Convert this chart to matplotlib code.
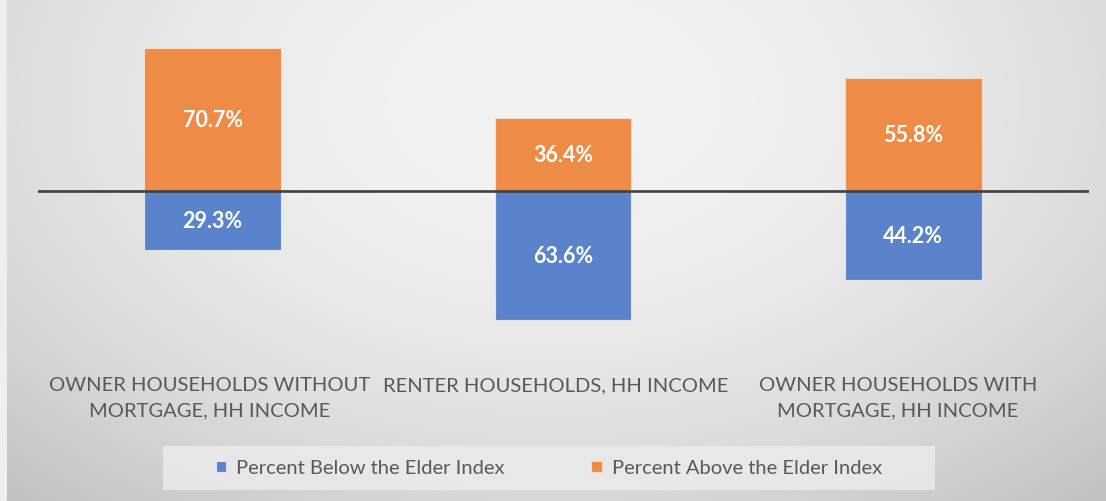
import numpy as np
import matplotlib.pyplot as plt
from matplotlib.patches import Rectangle

plt.rcParams['font.family'] = ['Lato', 'DejaVu Sans']

categories = ["OWNER HOUSEHOLDS WITHOUT\nMORTGAGE, HH INCOME",
              "RENTER HOUSEHOLDS, HH INCOME",
              "OWNER HOUSEHOLDS WITH\nMORTGAGE, HH INCOME"]
below = [29.3, 63.6, 44.2]
above = [70.7, 36.4, 55.8]
series_names = ["Percent Below the Elder Index", "Percent Above the Elder Index"]

W, H = 1106, 502
fig = plt.figure(figsize=(W / 100, H / 100), dpi=100)

# radial grey background
bg = fig.add_axes([0, 0, 1, 1])
yy, xx = np.mgrid[0:H, 0:W]
d2 = ((xx - 553) / 650.0) ** 2 + ((yy - 100) / 420.0) ** 2
g = np.clip(243 - 31 * d2, 150, 245) / 255.0
img = np.dstack([g, g, g])
img[:, :7, :] = 0.94  # light strip on the left edge
bg.imshow(img, aspect='auto', extent=[0, 1, 0, 1])
bg.set_xlim(0, 1)
bg.set_ylim(0, 1)
bg.axis('off')

ax = fig.add_axes([37.5 / W, 1 - 345 / H, 1051 / W, 335 / H])
ax.set_facecolor('none')

x = np.arange(len(categories))
blue = '#5B83CC'
orange = '#ED8B47'
b1 = ax.bar(x, [-v for v in below], width=0.39, color=blue, edgecolor='#dfe6f2',
            linewidth=0.8, zorder=2)
b2 = ax.bar(x, above, width=0.39, color=orange, edgecolor='#f7dcc8',
            linewidth=0.8, zorder=2)

for i in range(len(categories)):
    ax.text(x[i], -below[i] / 2, "%.1f%%" % below[i], ha='center', va='center',
            color='white', fontsize=15.5, fontweight='bold', zorder=3)
    ax.text(x[i], above[i] / 2, "%.1f%%" % above[i], ha='center', va='center',
            color='white', fontsize=15.5, fontweight='bold', zorder=3)

ax.axhline(0, color='#404040', linewidth=1.9, zorder=4)

ax.set_xlim(-0.5, 2.5)
ax.set_ylim(-75.7, 90.1)
ax.set_yticks([])
ax.set_xticks([])
for s in ax.spines.values():
    s.set_visible(False)

# category labels
label_x = [-0.01, 0.98, 1.956]
for i, lab in enumerate(categories):
    ax.text(label_x[i], -91.5, lab, ha='center', va='top', fontsize=14.5,
            color='#595959', linespacing=1.6, clip_on=False)

# legend box and entries
bg.add_patch(Rectangle((163 / W, 1 - 491 / H), 772 / W, 44 / H, facecolor='#ebebeb',
                       edgecolor='none', alpha=0.85, zorder=5))
leg = fig.legend(handles=[b1, b2], labels=series_names, loc='center',
                 bbox_to_anchor=(549 / W, 1 - 469 / H), ncol=2, frameon=False,
                 fontsize=14.5, handlelength=0.5, handleheight=0.5,
                 handletextpad=0.5, columnspacing=4.3)
for t in leg.get_texts():
    t.set_color('#595959')

fig.savefig('out.png', dpi=100)
